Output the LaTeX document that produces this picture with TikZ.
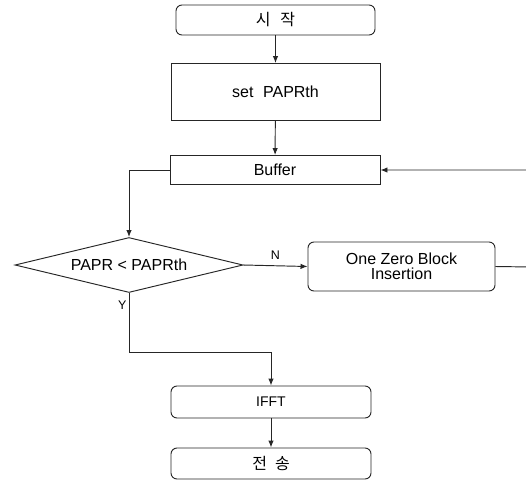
\documentclass[tikz,border=0pt]{standalone}
\usepackage{fontspec}
\setmainfont{Liberation Sans}
\newfontfamily\kofont{Noto Sans CJK KR}
\usetikzlibrary{arrows.meta,shapes.geometric}

\begin{document}
\begin{tikzpicture}[x=1pt,y=-1pt,>={Latex[length=7pt,width=5.5pt]},line width=0.95pt]
{\fontsize{16}{19}\selectfont
  \tikzstyle{term}=[rectangle,rounded corners=6pt,draw=black!85,inner sep=0pt]
  \tikzstyle{proc}=[rectangle,draw=black!85,inner sep=0pt]
  \tikzstyle{test}=[diamond,draw=black!85,aspect=4.15,inner sep=0pt]
  \tikzstyle{flow}=[->,draw=black!85]
  \tikzstyle{lab}=[font=\fontsize{12.5}{14}\selectfont,inner sep=2pt]

  \useasboundingbox (0,0) rectangle (526,482);

    \node [term,minimum width=199,minimum height=30] (start) at (275.5,20) {\kofont 시\hspace{0.6em}작};
    \node [proc,minimum width=209,minimum height=57] (setth) at (275.5,92) {set\hspace{0.6em}PAPRth};
    \node [proc,minimum width=210,minimum height=29] (buffer) at (275,170) {Buffer};
    \node [test,minimum width=228,minimum height=55] (cmp) at (129,265) {PAPR < PAPRth};
    \node [term,minimum width=187,minimum height=49,align=center] (ozb) at (401.5,266.5) {One Zero Block\\[-4pt]Insertion};
    \node [term,minimum width=200,minimum height=32] (ifft) at (271,402) {\fontsize{14}{16}\selectfont IFFT};
    \node [term,minimum width=200,minimum height=31] (send) at (271,463.5) {\kofont 전\hspace{0.5em}송};
    \coordinate (ybend) at (129,352);
    \coordinate (loopr) at (532,267);

\draw [flow] (start) to (setth);
\draw [flow] (setth) to (buffer);
\draw [flow] (buffer.west) -| (cmp.north);
\draw [flow] (cmp.east) -- node[lab,above,yshift=4pt] {N} (ozb.west);
\draw [flow] (cmp.south) -- node[lab,left,pos=0.2] {Y} (ybend) -| (ifft.north);
\draw [flow] (ozb.east) -- (loopr) |- (buffer.east);
\draw [flow] (ifft) to (send);
}
\end{tikzpicture}
\end{document}
